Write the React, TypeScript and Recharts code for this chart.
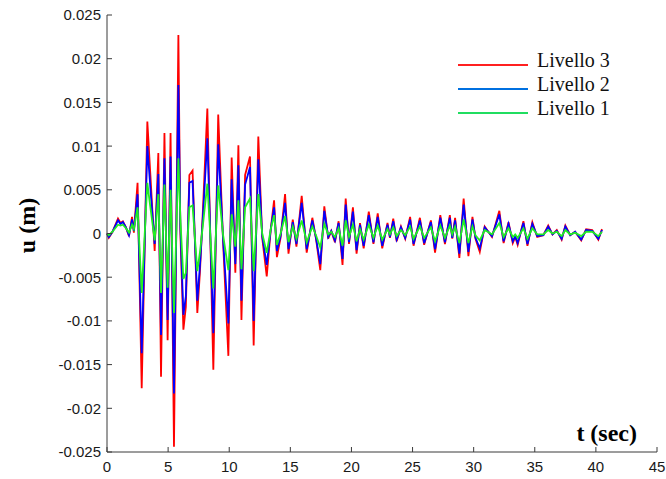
import React from "react";
import { LineChart, Line, XAxis, YAxis, Legend } from "recharts";

// time (s) at each turning point of the response
const time = [
  0, 0.15, 0.45, 0.9, 1.1, 1.3, 1.55, 1.8, 2.05, 2.2,
  2.5, 2.84, 3.3, 3.55, 3.9, 4.2, 4.42, 4.7, 4.96, 5.2,
  5.48, 5.84, 6.0, 6.25, 6.45, 6.74, 7.0, 7.39, 7.6, 7.85,
  8.21, 8.7, 9.1, 9.5, 9.93, 10.2, 10.5, 10.75, 11.0, 11.3,
  11.7, 12.0, 12.38, 12.7, 13.07, 13.4, 13.67, 13.9, 14.2, 14.57,
  14.85, 15.2, 15.5, 15.93, 16.34, 16.8, 17.1, 17.45, 17.78, 18.1,
  18.35, 18.65, 18.95, 19.27, 19.53, 19.8, 20.12, 20.42, 20.7, 21.0,
  21.42, 21.8, 22.15, 22.52, 22.95, 23.15, 23.42, 23.7, 24.05, 24.4,
  24.8, 25.08, 25.6, 25.95, 26.5, 26.84, 27.27, 27.65, 28.05, 28.25,
  28.48, 28.83, 29.18, 29.57, 29.9, 30.15, 30.5, 30.9, 31.5, 32.1,
  32.45, 32.85, 33.2, 33.4, 33.6, 34.07, 34.4, 34.8, 35.2, 35.7,
  36.1, 36.45, 36.8, 37.2, 37.5, 37.9, 38.3, 38.8, 39.2, 39.7,
  40.2, 40.5,
];

const livello3 = [
  0, -0.0005, 0.0002, 0.0017, 0.0012, 0.0014, 0.0007, -0.0003, 0.0019, 0.0001,
  0.0058, -0.0177, 0.0128, 0.0067, -0.002, 0.0092, -0.0164, 0.0115, -0.0122, 0.0115,
  -0.0244, 0.0227, 0.0002, -0.011, -0.0084, 0.0067, 0.0072, -0.0091, -0.0045, 0.0027,
  0.0143, -0.0156, 0.0136, -0.001, -0.014, 0.0087, -0.0045, 0.0101, -0.0099, 0.0067,
  0.0088, -0.0128, 0.0111, -0.0005, -0.0049, 0.0005, 0.0038, -0.0027, -0.0005, 0.0045,
  -0.0023, 0.0016, -0.0015, 0.0043, -0.0022, 0.0018, -0.0006, -0.0042, 0.0031, -0.0006,
  0.0003, -0.001, 0.0014, -0.0036, 0.004, -0.0012, 0.003, -0.0023, 0.0012, -0.0017,
  0.0025, -0.0012, 0.0023, -0.0017, 0.0012, -0.0005, 0.0017, -0.0009, 0.0008, -0.0006,
  0.0019, -0.0014, 0.0018, -0.0013, 0.0015, -0.0022, 0.0021, -0.0012, 0.0021, -0.0006,
  0.0018, -0.0028, 0.004, -0.0026, 0.0019, -0.0006, -0.0021, 0.0008, -0.0004, 0.0026,
  -0.0011, 0.0013, -0.0011, -0.0004, -0.0013, 0.0014, -0.0014, 0.0013, -0.0004, -0.0002,
  0.0009, -0.0001, 0.0004, -0.0007, 0.0009, -0.0002, 0.0002, -0.0008, 0.0005, 0.0004,
  -0.0007, 0.0005,
];

const livello2 = [
  0, -0.0004, 0.0002, 0.0015, 0.0011, 0.0013, 0.0007, -0.0002, 0.0016, 0.0003,
  0.0045, -0.0137, 0.01, 0.0052, -0.0012, 0.0068, -0.0116, 0.0086, -0.0099, 0.0088,
  -0.0183, 0.017, 0.001, -0.0093, -0.0072, 0.0058, 0.006, -0.0077, -0.0038, 0.002,
  0.0109, -0.0114, 0.0102, -0.0007, -0.0103, 0.0062, -0.0035, 0.0078, -0.0077, 0.0056,
  0.0076, -0.01, 0.0085, -0.0003, -0.0036, 0.0005, 0.003, -0.002, -0.0003, 0.0035,
  -0.0018, 0.0013, -0.0012, 0.0035, -0.0018, 0.0015, -0.0005, -0.0035, 0.0026, -0.0004,
  0.0003, -0.0008, 0.0012, -0.0029, 0.0033, -0.001, 0.0025, -0.0019, 0.001, -0.0014,
  0.0021, -0.001, 0.0019, -0.0014, 0.001, -0.0004, 0.0014, -0.0007, 0.0007, -0.0005,
  0.0016, -0.0012, 0.0015, -0.0011, 0.0013, -0.0018, 0.0018, -0.001, 0.0018, -0.0005,
  0.0015, -0.0023, 0.0033, -0.0021, 0.0016, -0.0005, -0.0017, 0.0007, -0.0003, 0.0022,
  -0.0009, 0.0011, -0.0009, -0.0003, -0.0011, 0.0012, -0.0012, 0.0011, -0.0003, -0.0002,
  0.0008, -0.0001, 0.0003, -0.0006, 0.0008, -0.0002, 0.0002, -0.0007, 0.0004, 0.0003,
  -0.0006, 0.0004,
];

const livello1 = [
  0, -0.0002, 0.0002, 0.001, 0.0009, 0.001, 0.0006, 0.0001, 0.001, 0.0005,
  0.003, -0.0068, 0.0058, 0.003, -0.0008, 0.0045, -0.0068, 0.0056, -0.0062, 0.005,
  -0.0091, 0.0086, 0.0018, -0.0052, -0.0045, 0.003, 0.0032, -0.0043, -0.0022, 0.001,
  0.0057, -0.0063, 0.0055, -0.0002, -0.0042, 0.0022, -0.0015, 0.0038, -0.0041, 0.003,
  0.004, -0.0043, 0.0045, 0, -0.0022, 0.0005, 0.0021, -0.0013, 0, 0.002,
  -0.001, 0.0008, -0.0006, 0.0015, -0.001, 0.0008, -0.0002, -0.0016, 0.0011, -0.0001,
  0.0002, -0.0004, 0.0006, -0.0014, 0.0015, -0.0004, 0.001, -0.0009, 0.0005, -0.0007,
  0.001, -0.0005, 0.0009, -0.0007, 0.0005, -0.0001, 0.0007, -0.0003, 0.0004, -0.0002,
  0.0008, -0.0006, 0.0008, -0.0005, 0.0007, -0.0009, 0.0009, -0.0005, 0.0009, -0.0001,
  0.0008, -0.0011, 0.0016, -0.0011, 0.0008, -0.0002, -0.0008, 0.0004, -0.0001, 0.0012,
  -0.0004, 0.0006, -0.0004, -0.0001, -0.0005, 0.0006, -0.0006, 0.0006, -0.0001, -0.0001,
  0.0004, 0, 0.0002, -0.0003, 0.0004, -0.0001, 0.0001, -0.0003, 0.0002, 0.0002,
  -0.0003, 0.0002,
];

const xTicks = [0, 5, 10, 15, 20, 25, 30, 35, 40, 45];
const yTicks = [
  -0.025, -0.02, -0.015, -0.01, -0.005, 0, 0.005, 0.01, 0.015, 0.02, 0.025,
];

// legend order, top to bottom
const seriesNames = ["Livello 3", "Livello 2", "Livello 1"];
const seriesColors: Record<string, string> = {
  "Livello 3": "#ff0000",
  "Livello 2": "#0000ff",
  "Livello 1": "#22ee22",
};
const legendColors: Record<string, string> = {
  "Livello 3": "#ff2020",
  "Livello 2": "#0070e0",
  "Livello 1": "#20dd60",
};

const data = time.map((t, i) => ({
  t,
  l3: livello3[i],
  l2: livello2[i],
  l1: livello1[i],
}));

const AXIS = "#3a3a3a";
const tickFont = { fontFamily: "Liberation Sans, Arial, sans-serif", fontSize: 15, fill: "#1a1a1a" };
const serif = "Liberation Serif, Times New Roman, serif";

const BottomTick = ({ x, y, payload }: any) => (
  <g>
    <line x1={x} x2={x} y1={y} y2={y - 5} stroke={AXIS} />
    <text x={x} y={y + 20} textAnchor="middle" {...tickFont}>
      {payload.value}
    </text>
  </g>
);

const LeftTick = ({ x, y, payload }: any) => (
  <g>
    <line x1={x} x2={x + 5} y1={y} y2={y} stroke={AXIS} />
    <text x={x - 6} y={y} dy="0.36em" textAnchor="end" {...tickFont}>
      {payload.value}
    </text>
  </g>
);

const TopTick = ({ x, y }: any) => <line x1={x} x2={x} y1={y} y2={y + 5} stroke={AXIS} />;
const RightTick = ({ x, y }: any) => <line x1={x} x2={x - 5} y1={y} y2={y} stroke={AXIS} />;

const LegendBox = ({ payload }: any) => {
  const shown = seriesNames.filter((n) => (payload || []).some((p: any) => p.value === n));
  return (
    <div style={{ fontFamily: serif, fontSize: 20, color: "#111" }}>
      {shown.map((name) => (
        <div key={name} style={{ display: "flex", alignItems: "flex-start", height: 24, lineHeight: "24px" }}>
          <div style={{ width: 70, height: 2, marginTop: 16, background: legendColors[name] }} />
          <span style={{ marginLeft: 9 }}>{name}</span>
        </div>
      ))}
    </div>
  );
};

export default function App() {
  return (
    <div style={{ position: "absolute", left: 0, top: 0, background: "#fff" }}>
      <LineChart width={666} height={479} data={data} margin={{ top: 15, right: 9, bottom: 0, left: 0 }}>
        <XAxis
          dataKey="t"
          type="number"
          domain={[0, 45]}
          ticks={xTicks}
          height={27}
          stroke={AXIS}
          tickLine={false}
          tickSize={0}
          tickMargin={0}
          tick={<BottomTick />}
          label={{
            content: ({ viewBox }: any) => (
              <text
                x={viewBox.x + viewBox.width - 20}
                y={viewBox.y - 11}
                textAnchor="end"
                fontFamily={serif}
                fontWeight="bold"
                fontSize={24}
                fill="#000"
              >
                t (sec)
              </text>
            ),
          }}
        />
        <XAxis
          xAxisId="top"
          orientation="top"
          type="number"
          domain={[0, 45]}
          ticks={xTicks}
          height={0}
          stroke={AXIS}
          tickLine={false}
          tickSize={0}
          tickMargin={0}
          tick={<TopTick />}
        />
        <YAxis
          type="number"
          domain={[-0.025, 0.025]}
          ticks={yTicks}
          width={107}
          stroke={AXIS}
          tickLine={false}
          tickSize={0}
          tickMargin={0}
          tick={<LeftTick />}
          label={{
            content: ({ viewBox }: any) => {
              const cx = viewBox.x + 27;
              const cy = viewBox.y + viewBox.height / 2 - 8;
              return (
                <text
                  x={cx}
                  y={cy}
                  dy="0.35em"
                  textAnchor="middle"
                  transform={`rotate(-90, ${cx}, ${cy})`}
                  fontFamily={serif}
                  fontWeight="bold"
                  fontSize={24}
                  fill="#000"
                >
                  u (m)
                </text>
              );
            },
          }}
        />
        <YAxis
          yAxisId="right"
          orientation="right"
          type="number"
          domain={[-0.025, 0.025]}
          ticks={yTicks}
          width={0}
          stroke={AXIS}
          tickLine={false}
          tickSize={0}
          tickMargin={0}
          tick={<RightTick />}
        />
        <Legend
          layout="vertical"
          align="center"
          verticalAlign="middle"
          wrapperStyle={{ left: 458, top: 48, width: "auto" }}
          content={<LegendBox />}
        />
        <Line type="linear" dataKey="l3" name="Livello 3" stroke={seriesColors["Livello 3"]} strokeWidth={1.8} dot={false} isAnimationActive={false} />
        <Line type="linear" dataKey="l2" name="Livello 2" stroke={seriesColors["Livello 2"]} strokeWidth={1.8} dot={false} isAnimationActive={false} />
        <Line type="linear" dataKey="l1" name="Livello 1" stroke={seriesColors["Livello 1"]} strokeWidth={1.8} dot={false} isAnimationActive={false} />
      </LineChart>
    </div>
  );
}
